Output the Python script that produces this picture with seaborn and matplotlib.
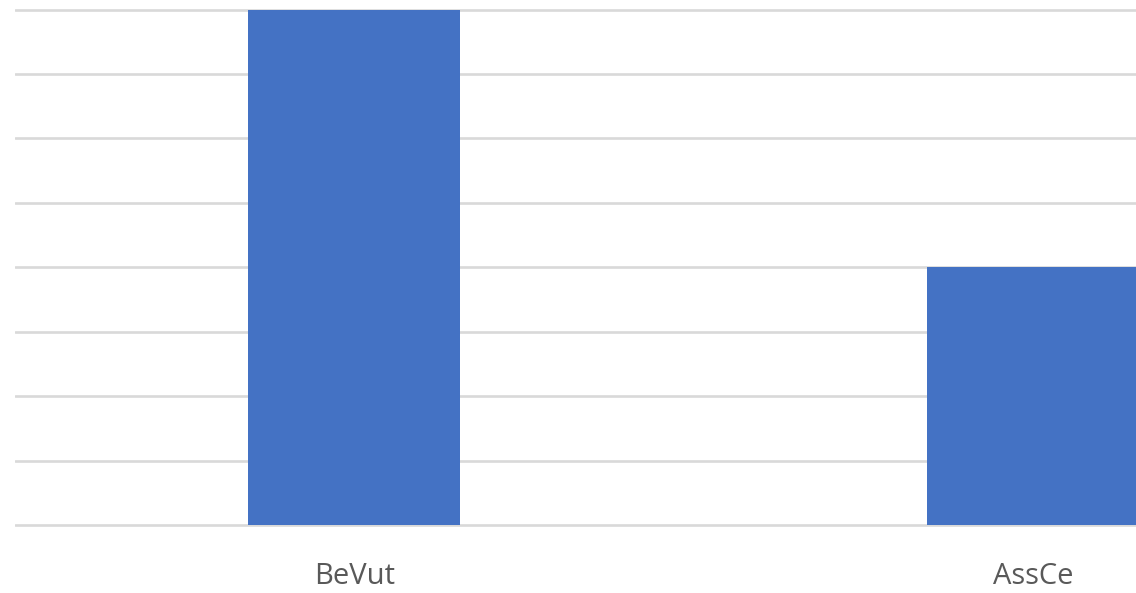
import seaborn as sns
import pandas as pd
import matplotlib.pyplot as plt

# category names and bar values (no tick labels on y, so read as gridline steps)
categories = ["BeVut", "AssCe"]
values = [8, 4]

df = pd.DataFrame({"category": categories, "value": values})

sns.set_style("white")
plt.rcParams["font.family"] = ["Open Sans", "DejaVu Sans"]

W, H = 1136, 593
fig = plt.figure(figsize=(W / 100, H / 100), dpi=100)

# axes placed in pixels: baseline at y=525, top gridline at y~9.5, left edge at x=15
ymin, ymax = -0.03, 8.04
px_per_unit = (525 - 9.5) / 8
bottom_px = 525 + (-ymin) * px_per_unit
ax_h = (ymax - ymin) * px_per_unit
ax = fig.add_axes([15 / W, (H - bottom_px) / H, (W - 15) / W, ax_h / H])

sns.barplot(data=df, x="category", y="value", color="#4472C4", width=0.312,
            saturation=1, edgecolor="none", linewidth=0, ax=ax, zorder=3)

ax.set_xlim(-0.5, 1.152)
ax.set_ylim(ymin, ymax)
ax.set_yticks(range(0, 9))
ax.yaxis.grid(True, color="#d9d9d9", linewidth=1.9, zorder=0)
ax.set_axisbelow(True)
ax.tick_params(axis="y", left=False, labelleft=False)
ax.tick_params(axis="x", bottom=False, labelsize=21, labelcolor="#595959", pad=22)
ax.set_xlabel("")
ax.set_ylabel("")
sns.despine(ax=ax, left=True, bottom=True)

plt.savefig("out.png", dpi=100)
